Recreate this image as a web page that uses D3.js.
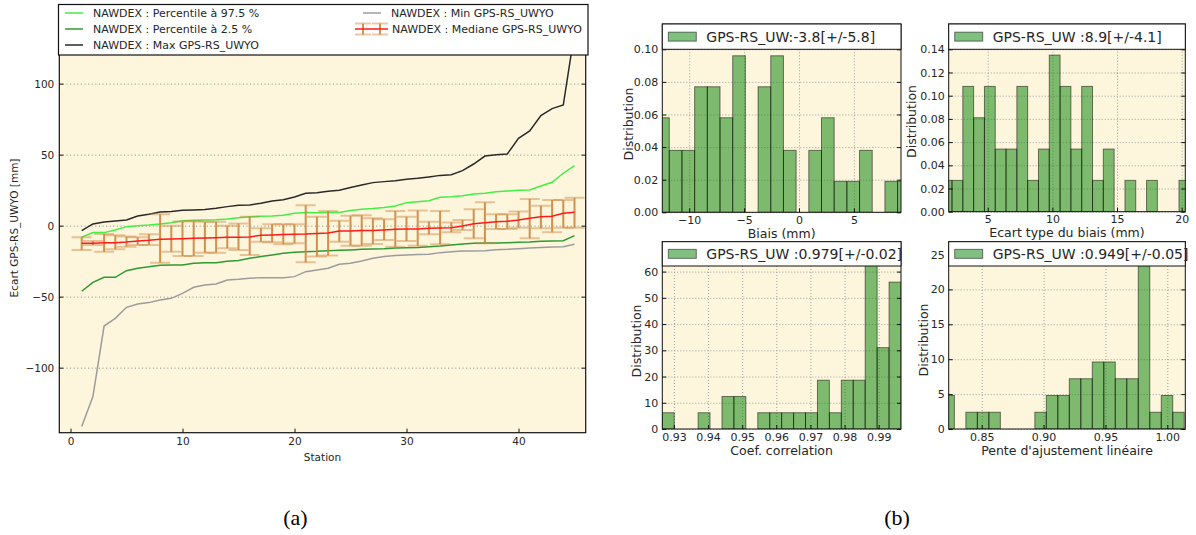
<!DOCTYPE html>
<html>
<head>
<meta charset="utf-8">
<script src="https://cdn.jsdelivr.net/npm/d3@7.9.0/dist/d3.min.js"></script>
<style>
  body { margin: 0; background: #fff; }
  svg { display: block; font-family: "DejaVu Sans", sans-serif; }
</style>
</head>
<body>
<svg id="fig" width="1196" height="535"></svg>
<script>
// ---------- panel (a) : statistics per station ----------
const stations = [1,2,3,4,5,6,7,8,9,10,11,12,13,14,15,16,17,18,19,20,21,22,23,24,25,26,27,28,29,30,31,32,33,34,35,36,37,38,39,40,41,42,43,44,45];
const p975 = [-8.2,-4.9,-4.9,-3,-0.7,0,0.5,1.2,2.1,3.5,3.8,4,4.2,4.7,5.6,6.3,6.6,6.8,7.3,8.7,9.2,9.0,9.2,9.2,10.6,11.5,12,12.7,13.8,16.2,16.9,17.6,20,20.4,21.1,22.3,22.8,23.9,24.4,24.9,25.1,27.9,30.5,36.9,42.3];
const p025 = [-46.2,-39.9,-36.4,-36.4,-31.7,-30,-28.9,-27.9,-27.7,-27.7,-26.5,-26.1,-26.1,-25.1,-24.6,-23,-21.8,-20.7,-19.5,-18.8,-18.3,-18.1,-17.6,-17.4,-17.1,-16.7,-16.4,-16.2,-15.7,-15.5,-15.3,-14.8,-14.3,-13.6,-12.9,-12.4,-12.2,-12.2,-12,-11.7,-11.5,-11,-10.8,-10.6,-7];
const maxV = [-3.5,1.2,2.6,3.3,4,6.8,8,9.6,9.9,10.8,11,11.3,12.2,13.4,14.3,14.6,15.7,17.4,18.3,20.2,22.8,23.2,24.2,24.9,26.8,28.6,30.3,31,31.7,32.6,33.3,34.3,35.4,35.9,38.7,43.4,49,50,50.5,61.5,66.7,77.5,82.4,85,136];
const minV = [-141.5,-120.4,-70.7,-65.3,-57.5,-55.2,-54.2,-52.3,-51.2,-47.7,-43.4,-41.8,-41.1,-38.3,-37.8,-37.1,-36.6,-36.6,-36.6,-35.9,-32.4,-31.2,-30,-27.2,-26.5,-24.9,-23,-21.8,-21.1,-20.7,-20.4,-20.2,-19,-18.3,-17.8,-17.8,-17.6,-16.9,-16.7,-16.2,-15.7,-15.3,-15,-14.8,-13.1];
const median = [-12.4,-12.4,-12,-12,-11.5,-10.8,-10.3,-9.6,-9.4,-9.2,-8.9,-8.7,-8.5,-8.2,-8.2,-8,-6.8,-6.6,-6.3,-6.1,-5.9,-5.5,-5.2,-3.8,-3.8,-3.5,-3.5,-3.1,-2.6,-2.3,-2.3,-1.9,-1.6,-1.4,-0.2,1.4,2.1,2.8,3.1,4,5.2,6.3,6.6,8.7,9.4];
const errHigh = [-8.2,-10.8,-5.9,-6.8,-7.7,-8.2,-6.1,8,0,3,3.3,2.8,2.8,0,1.6,6.3,-1.9,0.9,0.9,0.9,14.3,6.3,10.3,3.5,7,7.3,5.2,4.5,10.3,6.3,10.6,2.8,10.3,2.3,4,11.5,16.4,8,8,9.9,18.8,14.1,18.1,18.1,19.7];
const errLow = [-17.1,-13.6,-18.3,-16.7,-14.8,-13.6,-13.6,-26.1,-18.3,-21.4,-21.4,-19,-19,-16,-17.1,-20.7,-11.3,-11.7,-13.1,-12.4,-25.8,-21.8,-21.1,-11.3,-14.1,-14.1,-12.9,-10.1,-14.8,-10.8,-14.1,-6.1,-13.1,-4.7,-3.1,-8.9,-12.4,-2.3,-2.3,-1.4,-8.9,-1.9,-4.7,-1.4,-1.4];
const stationTicks = [0, 10, 20, 30, 40];
const ecartTicks = [-100, -50, 0, 50, 100];

// ---------- panel (b) : histograms ----------
const biaisHeights = [0.058,0.038,0.038,0.077,0.077,0.058,0.096,0,0.077,0.096,0.038,0,0.038,0.058,0.019,0.019,0.038,0,0.019,0.019];
const stdHeights = [0.027,0.027,0.108,0.081,0.108,0.054,0.054,0.108,0.027,0.054,0.135,0.108,0.054,0.108,0.027,0.054,0,0.027,0,0.027,0,0,0.027];
const corrHeights = [6.2,0,0,6.2,0,12.4,12.4,0,6.2,6.2,6.2,6.2,6.2,18.6,6.2,18.6,18.6,63,31,56];
const penteHeights = [4.8,0,2.4,2.4,2.4,0,0,0,2.4,4.8,4.8,7.2,7.2,9.6,9.6,7.2,7.2,26,2.4,4.8,2.4];

const svg = d3.select("#fig");
const bg = "#fdf5dc";
const textCol = "#262626";

// ================= panel (a) =================
const A = { left: 59.3, right: 585.7, top: 23, bottom: 432.7 };
const x = d3.scaleLinear().domain([-1, 46]).range([A.left, A.right]);
const y = d3.scaleLinear().domain([-145.8, 142.7]).range([A.bottom, A.top]);

svg.append("clipPath").attr("id", "clipA").append("rect")
  .attr("x", A.left).attr("y", A.top)
  .attr("width", A.right - A.left).attr("height", A.bottom - A.top);

const ga = svg.append("g");
ga.append("rect").attr("x", A.left).attr("y", A.top)
  .attr("width", A.right - A.left).attr("height", A.bottom - A.top)
  .attr("fill", bg);

// horizontal dotted grid
ga.append("g")
  .attr("transform", `translate(${A.left},0)`)
  .call(d3.axisLeft(y).tickValues(ecartTicks).tickSize(-(A.right - A.left)).tickFormat(""))
  .call(g => g.select(".domain").remove())
  .call(g => g.selectAll("line").attr("stroke", "#8a8a8a").attr("stroke-dasharray", "1,2.6"));

const plot = ga.append("g").attr("clip-path", "url(#clipA)");
const line = d3.line().x((d, i) => x(stations[i])).y(d => y(d));

const series = [
  { values: p975, color: "#44ee44" },
  { values: p025, color: "#2f9a2f" },
  { values: maxV, color: "#2a2a2a" },
  { values: minV, color: "#9c9c9c" }
];
series.forEach(s => {
  plot.append("path").datum(s.values)
    .attr("d", line).attr("fill", "none")
    .attr("stroke", s.color).attr("stroke-width", 1.5);
});

// error bars
const eb = plot.append("g");
eb.selectAll(".cap-hi").data(stations).join("line")
  .attr("x1", d => x(d) - 10).attr("x2", d => x(d) + 10)
  .attr("y1", (d, i) => y(errHigh[i])).attr("y2", (d, i) => y(errHigh[i]))
  .attr("stroke", "#cd853f").attr("stroke-opacity", 0.45).attr("stroke-width", 2);
eb.selectAll(".cap-lo").data(stations).join("line")
  .attr("x1", d => x(d) - 10).attr("x2", d => x(d) + 10)
  .attr("y1", (d, i) => y(errLow[i])).attr("y2", (d, i) => y(errLow[i]))
  .attr("stroke", "#cd853f").attr("stroke-opacity", 0.45).attr("stroke-width", 2);
eb.selectAll(".bar").data(stations).join("line")
  .attr("x1", d => x(d)).attr("x2", d => x(d))
  .attr("y1", (d, i) => y(errLow[i])).attr("y2", (d, i) => y(errHigh[i]))
  .attr("stroke", "#cd853f").attr("stroke-opacity", 0.9).attr("stroke-width", 2);

plot.append("path").datum(median)
  .attr("d", line).attr("fill", "none")
  .attr("stroke", "#ff1a1a").attr("stroke-width", 1.5);

// frame
ga.append("rect").attr("x", A.left).attr("y", A.top)
  .attr("width", A.right - A.left).attr("height", A.bottom - A.top)
  .attr("fill", "none").attr("stroke", "#111").attr("stroke-width", 1.2);

function styleAxis(g, size) {
  g.select(".domain").remove();
  g.attr("font-family", "DejaVu Sans").attr("font-size", size);
  g.selectAll("text").attr("fill", textCol);
  g.selectAll("line").attr("stroke", "#111");
}

ga.append("g").attr("transform", `translate(${A.left},0)`)
  .call(d3.axisLeft(y).tickValues(ecartTicks).tickSize(-4).tickPadding(5))
  .call(g => styleAxis(g, 10.5));
ga.append("g").attr("transform", `translate(${A.right},0)`)
  .call(d3.axisRight(y).tickValues(ecartTicks).tickSize(-4).tickFormat(""))
  .call(g => styleAxis(g, 10.5));
ga.append("g").attr("transform", `translate(0,${A.bottom})`)
  .call(d3.axisBottom(x).tickValues(stationTicks).tickSize(-4).tickPadding(5))
  .call(g => styleAxis(g, 10.5));

ga.append("text").attr("x", (A.left + A.right) / 2).attr("y", 461)
  .attr("text-anchor", "middle").attr("font-size", 10.5).attr("fill", textCol)
  .text("Station");
ga.append("text").attr("transform", "translate(17.5,228) rotate(-90)")
  .attr("text-anchor", "middle").attr("font-size", 10.5).attr("fill", textCol)
  .text("Ecart GPS-RS_UWYO [mm]");

// legend of panel (a)
const lg = svg.append("g");
lg.append("rect").attr("x", 58.5).attr("y", 4.5).attr("width", 529.5).attr("height", 50.5)
  .attr("fill", "#fff").attr("stroke", "#111").attr("stroke-width", 1.2);
const legA = [
  { label: "NAWDEX : Percentile à 97.5 %", color: "#44ee44", lx: 65, ty: 13 },
  { label: "NAWDEX : Percentile à 2.5 %", color: "#2f9a2f", lx: 65, ty: 29 },
  { label: "NAWDEX : Max GPS-RS_UWYO", color: "#2a2a2a", lx: 65, ty: 45 },
  { label: "NAWDEX : Min GPS-RS_UWYO", color: "#9c9c9c", lx: 363, ty: 13 }
];
legA.forEach(d => {
  lg.append("line").attr("x1", d.lx).attr("x2", d.lx + 18).attr("y1", d.ty).attr("y2", d.ty)
    .attr("stroke", d.color).attr("stroke-width", 1.5);
  lg.append("text").attr("x", d.lx + 28).attr("y", d.ty + 4).attr("font-size", 11)
    .attr("fill", textCol).text(d.label);
});
// errorbar sample (two points)
[363, 380].forEach(px => {
  lg.append("line").attr("x1", px - 8).attr("x2", px + 8).attr("y1", 23.5).attr("y2", 23.5)
    .attr("stroke", "#cd853f").attr("stroke-opacity", 0.45).attr("stroke-width", 2);
  lg.append("line").attr("x1", px - 8).attr("x2", px + 8).attr("y1", 34.5).attr("y2", 34.5)
    .attr("stroke", "#cd853f").attr("stroke-opacity", 0.45).attr("stroke-width", 2);
  lg.append("line").attr("x1", px).attr("x2", px).attr("y1", 23.5).attr("y2", 34.5)
    .attr("stroke", "#cd853f").attr("stroke-opacity", 0.9).attr("stroke-width", 2);
});
lg.append("line").attr("x1", 355).attr("x2", 388).attr("y1", 29).attr("y2", 29)
  .attr("stroke", "#ff1a1a").attr("stroke-width", 1.5);
lg.append("text").attr("x", 392).attr("y", 33).attr("font-size", 11)
  .attr("fill", textCol).text("NAWDEX : Mediane GPS-RS_UWYO");

// ================= panel (b) =================
function drawHist(c) {
  const hx = d3.scaleLinear().domain(c.xDomain).range([c.left, c.right]);
  const hy = d3.scaleLinear().domain(c.yDomain).range([c.bottom, c.top]);
  const w = c.right - c.left, h = c.bottom - c.top;
  const g = svg.append("g");

  svg.append("clipPath").attr("id", "clip" + c.id).append("rect")
    .attr("x", c.left).attr("y", c.top).attr("width", w).attr("height", h);

  g.append("rect").attr("x", c.left).attr("y", c.top).attr("width", w).attr("height", h).attr("fill", bg);

  // dotted grid
  g.append("g").attr("transform", `translate(${c.left},0)`)
    .call(d3.axisLeft(hy).tickValues(c.yTicks).tickSize(-w).tickFormat(""))
    .call(a => a.select(".domain").remove())
    .call(a => a.selectAll("line").attr("stroke", "#a0a0a0").attr("stroke-dasharray", "1,2"));
  g.append("g").attr("transform", `translate(0,${c.bottom})`)
    .call(d3.axisBottom(hx).tickValues(c.xTicks).tickSize(-h).tickFormat(""))
    .call(a => a.select(".domain").remove())
    .call(a => a.selectAll("line").attr("stroke", "#a0a0a0").attr("stroke-dasharray", "1,2"));

  const bins = c.heights.map((v, i) => ({ v, a: c.start + i * c.width, b: c.start + (i + 1) * c.width }));
  g.append("g").attr("clip-path", `url(#clip${c.id})`)
    .selectAll("rect").data(bins.filter(d => d.v > 0)).join("rect")
    .attr("x", d => hx(d.a)).attr("width", d => hx(d.b) - hx(d.a))
    .attr("y", d => hy(d.v)).attr("height", d => hy(0) - hy(d.v))
    .attr("fill", "#008000").attr("fill-opacity", 0.5)
    .attr("stroke", "#000").attr("stroke-opacity", 0.5).attr("stroke-width", 1);

  g.append("rect").attr("x", c.left).attr("y", c.top).attr("width", w).attr("height", h)
    .attr("fill", "none").attr("stroke", "#111").attr("stroke-width", 1);

  g.append("g").attr("transform", `translate(${c.left},0)`)
    .call(d3.axisLeft(hy).tickValues(c.yTicks).tickSize(-4).tickPadding(4).tickFormat(d3.format(c.yFmt)))
    .call(a => styleAxis(a, 11));
  g.append("g").attr("transform", `translate(${c.right},0)`)
    .call(d3.axisRight(hy).tickValues(c.yTicks).tickSize(-4).tickFormat(""))
    .call(a => styleAxis(a, 11));
  g.append("g").attr("transform", `translate(0,${c.bottom})`)
    .call(d3.axisBottom(hx).tickValues(c.xTicks).tickSize(-4).tickPadding(4).tickFormat(d3.format(c.xFmt)))
    .call(a => styleAxis(a, 11));

  g.append("text").attr("x", (c.left + c.right) / 2).attr("y", c.bottom + 25.5)
    .attr("text-anchor", "middle").attr("font-size", 12.5).attr("fill", textCol).text(c.xLabel);
  g.append("text").attr("transform", `translate(${c.ylabX},${c.ylabY}) rotate(-90)`)
    .attr("text-anchor", "middle").attr("dy", "0.35em").attr("font-size", 12.5).attr("fill", textCol)
    .text("Distribution");

  // legend box across the top of the axes
  const lh = c.legendBottom - c.top;
  g.append("rect").attr("x", c.left).attr("y", c.top).attr("width", w).attr("height", lh)
    .attr("fill", "#fff").attr("stroke", "#111").attr("stroke-width", 1);
  g.append("rect").attr("x", c.left + 6).attr("y", c.top + lh / 2 - 4.5).attr("width", 28).attr("height", 9)
    .attr("fill", "#008000").attr("fill-opacity", 0.5)
    .attr("stroke", "#000").attr("stroke-opacity", 0.5);
  g.append("text").attr("x", c.left + 44).attr("y", c.top + lh / 2 + 5)
    .attr("font-size", 14).attr("fill", textCol).text(c.legend);
}

drawHist({
  id: 1, left: 662.3, right: 901, top: 24, bottom: 212.3, legendBottom: 49.3,
  xDomain: [-12.45, 9.29], yDomain: [0, 0.1155],
  start: -12.97, width: 1.1553, heights: biaisHeights,
  xTicks: [-10, -5, 0, 5], yTicks: [0, 0.02, 0.04, 0.06, 0.08, 0.10],
  xFmt: "d", yFmt: ".2f", xLabel: "Biais (mm)", ylabX: 628.5, ylabY: 124,
  legend: "GPS-RS_UW:-3.8[+/-5.8]"
});
drawHist({
  id: 2, left: 948.7, right: 1185.3, top: 24, bottom: 211.7, legendBottom: 49.3,
  xDomain: [1.98, 20.28], yDomain: [0, 0.1618],
  start: 1.40, width: 0.836, heights: stdHeights,
  xTicks: [5, 10, 15, 20], yTicks: [0, 0.02, 0.04, 0.06, 0.08, 0.10, 0.12, 0.14],
  xFmt: "d", yFmt: ".2f", xLabel: "Ecart type du biais (mm)", ylabX: 912, ylabY: 121.5,
  legend: "GPS-RS_UW :8.9[+/-4.1]"
});
drawHist({
  id: 3, left: 662.3, right: 901, top: 241.7, bottom: 429, legendBottom: 266,
  xDomain: [0.9266, 0.99654], yDomain: [0, 71.4],
  start: 0.9266, width: 0.003497, heights: corrHeights,
  xTicks: [0.93, 0.94, 0.95, 0.96, 0.97, 0.98, 0.99], yTicks: [0, 10, 20, 30, 40, 50, 60],
  xFmt: ".2f", yFmt: "d", xLabel: "Coef. correlation", ylabX: 637, ylabY: 341,
  legend: "GPS-RS_UW :0.979[+/-0.02]"
});
drawHist({
  id: 4, left: 948.7, right: 1185.3, top: 241.7, bottom: 429, legendBottom: 266,
  xDomain: [0.8233, 1.01454], yDomain: [0, 26.83],
  start: 0.8186, width: 0.00929, heights: penteHeights,
  xTicks: [0.85, 0.90, 0.95, 1.00], yTicks: [0, 5, 10, 15, 20, 25],
  xFmt: ".2f", yFmt: "d", xLabel: "Pente d'ajustement linéaire", ylabX: 923.5, ylabY: 340,
  legend: "GPS-RS_UW :0.949[+/-0.05]"
});

// captions
svg.append("text").attr("x", 295.5).attr("y", 525).attr("text-anchor", "middle")
  .attr("font-family", "Liberation Serif, serif").attr("font-size", 22).attr("fill", "#000").text("(a)");
svg.append("text").attr("x", 897).attr("y", 525).attr("text-anchor", "middle")
  .attr("font-family", "Liberation Serif, serif").attr("font-size", 22).attr("fill", "#000").text("(b)");
</script>
</body>
</html>
